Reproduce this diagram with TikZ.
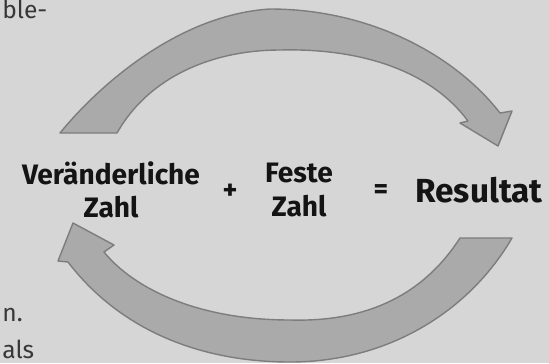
\documentclass[tikz,border=0pt]{standalone}
\usepackage{fontspec}
\setmainfont{Fira Sans}
\usetikzlibrary{positioning}
\definecolor{pagegray}{RGB}{214,214,214}
\definecolor{arrowgray}{RGB}{170,170,170}
\definecolor{edgegray}{RGB}{125,125,125}
\definecolor{ink}{RGB}{20,20,20}

\begin{document}
\begin{tikzpicture}[x=0.02cm,y=-0.02cm,
  bigarrow/.style={fill=arrowgray,draw=edgegray,line width=0.8pt,line join=round},
  term/.style={font=\fontsize{16}{19}\selectfont\bfseries,text=ink,align=center,inner sep=0pt},
  sign/.style={font=\fontsize{16}{19}\selectfont\bfseries,text=ink,inner sep=0pt},
  pagetext/.style={font=\fontsize{14}{17}\selectfont,text=ink!85,inner sep=0pt}]
  \fill[pagegray] (0,0) rectangle (549,363);
  \useasboundingbox (0,0) rectangle (549,363);
  \clip (0,0) rectangle (549,363);

  % upper arrow, left to right
  \draw[bigarrow] (60,133) .. controls (95,90) and (175,15) .. (270,9)
     .. controls (370,9) and (455,55) .. (500,113)
     -- (512,111) -- (498,146) -- (460,123) -- (468,121)
     .. controls (430,70) and (360,48) .. (280,50)
     .. controls (215,50) and (150,75) .. (117,133) -- cycle;

  % lower arrow, right to left
  \draw[bigarrow] (512,238) .. controls (470,310) and (390,362) .. (290,362)
     .. controls (200,362) and (120,330) .. (68,262)
     -- (58,261) -- (73,223) -- (114,245) -- (104,252)
     .. controls (135,290) and (200,320) .. (290,320)
     .. controls (360,322) and (420,300) .. (460,238) -- cycle;

  \node[term] (var) at (111,190) {Veränderliche\\Zahl};
  \node[sign] (plus) at (230,192) {+};
  \node[term] (fix) at (299,190) {Feste\\Zahl};
  \node[sign] (eq) at (381,192) {=};
  \node[term,font=\fontsize{19}{22}\selectfont\bfseries] (res) at (479,190) {Resultat};

  % bits of the page text
  \node[pagetext,anchor=base west] (frag1) at (2,18) {ble-};
  \node[pagetext,anchor=base west] (frag2) at (2,321) {n.};
  \node[pagetext,anchor=base west] (frag3) at (2,358) {als};
\end{tikzpicture}
\end{document}
